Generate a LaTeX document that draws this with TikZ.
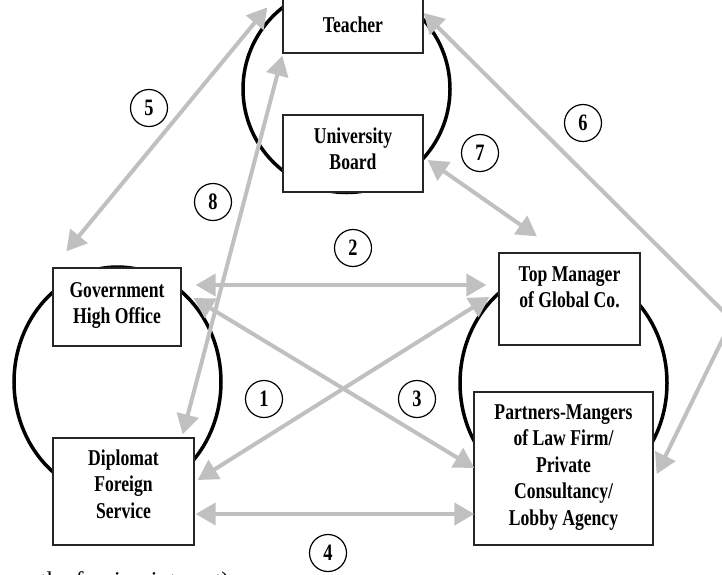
\documentclass[tikz,border=0pt]{standalone}
\usepackage{fontspec}
\setmainfont{Liberation Serif}
\newfontfamily\labfont{Liberation Serif}[FakeStretch=0.78]
\usetikzlibrary{arrows.meta,calc}
\definecolor{arrowgray}{RGB}{192,192,192}
\begin{document}
\begin{tikzpicture}[x=1pt,y=-1pt,
  bigc/.style={draw=black,line width=3.5pt},
  box/.style={draw=black!85,line width=1.3pt,fill=white,rectangle,inner sep=0pt},
  lab/.style={font=\labfont\bfseries\fontsize{22.6}{26.5}\selectfont,align=center,inner sep=0pt},
  num/.style={draw=black,line width=1.2pt,circle,minimum size=37pt,inner sep=0pt,
              font=\labfont\bfseries\fontsize{23.5}{26.5}\selectfont},
  garrow/.style={draw=arrowgray,line width=4pt,
     {Triangle[length=20pt,width=22pt]}-{Triangle[length=20pt,width=22pt]}}]
\useasboundingbox (0,0) rectangle (722,574);
% big circles
\draw[bigc] (346.5,89) circle[radius=103.5pt];
\draw[bigc] (117.5,382) ellipse[x radius=103.5pt,y radius=115pt];
\draw[bigc] (563.5,383) ellipse[x radius=103.5pt,y radius=115pt];
% boxes
\node[box,minimum width=140pt,minimum height=57pt] (teacher) at (353,24.5) {};
\node[box,minimum width=140pt,minimum height=77pt] (ub) at (353,153.5) {};
\node[box,minimum width=128pt,minimum height=78pt] (gov) at (117,307) {};
\node[box,minimum width=141pt,minimum height=107pt] (dip) at (123.5,491.5) {};
\node[box,minimum width=141pt,minimum height=92pt] (tm) at (569.5,299) {};
\node[box,minimum width=179pt,minimum height=153pt] (pm) at (563.5,468.5) {};
\coordinate (v6) at (732,320);
% arrows
\draw[garrow] ($(gov.east)+(14,-22)$) -- ($(tm.west)+(-12,-14)$);
\draw[garrow] ($(dip.east)+(3,-11.5)$) -- ($(tm.west)+(-9,-2)$);
\draw[garrow] ($(gov.east)+(12,-9)$) -- ($(pm.west)+(1,-0.5)$);
\draw[garrow] ($(dip.east)+(1,22.5)$) -- ($(pm.west)+(1,45.5)$);
\draw[garrow] ($(teacher.north west)+(-15,12)$) -- ($(gov.north west)+(14,-16)$);
\draw[garrow] ($(teacher.south west)+(0,2)$) -- ($(dip.north east)+(-12,-3)$);
\draw[garrow] ($(teacher.east)+(0,-11.5)$) -- (v6) -- ($(pm.east)+(3,5.5)$);
\draw[garrow] ($(ub.east)+(4,6.5)$) -- ($(tm.north)+(-32.5,-16)$);
% texts
\node[lab] (teachert) at (353,24.5) {Teacher};
\node[lab] (ubt) at (353,149) {University\\Board};
\node[lab] (govt) at (117,305.5) {Government\\High Office};
\node[lab] (dipt) at (123.5,484) {Diplomat\\Foreign\\Service};
\node[lab] (tmt) at (569.5,287.5) {Top Manager\\of Global Co.};
\node[lab] (pmt) at (563.5,467.5) {Partners-Mangers\\of Law Firm/\\Private\\Consultancy/\\Lobby Agency};
% numbers
\node[num] (n1) at (264,399) {1};
\node[num] (n2) at (353,248) {2};
\node[num] (n3) at (417,399) {3};
\node[num] (n4) at (328,553) {4};
\node[num] (n5) at (149,108) {5};
\node[num] (n6) at (583,123) {6};
\node[num] (n7) at (480,153) {7};
\node[num] (n8) at (213,202) {8};
% bottom text (cut off by the lower edge, as in the reference)
\node[anchor=base west,font=\fontsize{24}{28}\selectfont,inner sep=0pt] (foot) at (40,588) {the foreign interest)};
\end{tikzpicture}
\end{document}
